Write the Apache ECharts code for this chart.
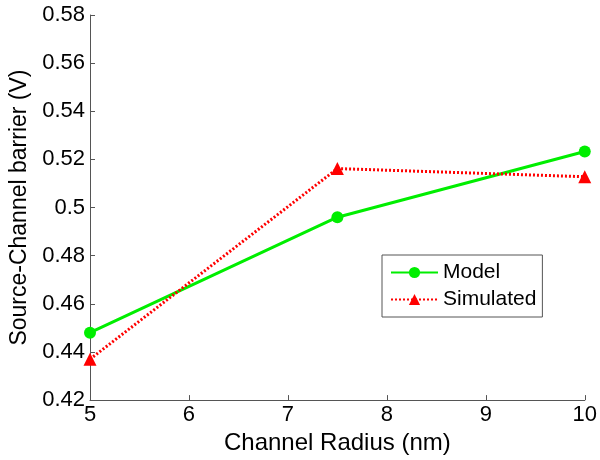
<!DOCTYPE html>
<html>
<head>
<meta charset="utf-8">
<script src="https://cdn.jsdelivr.net/npm/echarts@6/dist/echarts.min.js"></script>
<style>html,body{margin:0;padding:0;background:#fff;}#c{width:600px;height:460px;}</style>
</head>
<body>
<div id="c"></div>
<script>
var radius = [5, 7.5, 10];
var model = [0.448, 0.496, 0.5233];
var simulated = [0.437, 0.5162, 0.5128];
var seriesNames = ['Model', 'Simulated'];

var chart = echarts.init(document.getElementById('c'), null, {renderer: 'canvas'});
var font = 'Liberation Sans, Arial, Helvetica, sans-serif';
function pairs(xs, ys) { return xs.map(function (x, i) { return [x, ys[i]]; }); }
chart.setOption({
  animation: false,
  backgroundColor: '#fff',
  grid: {left: 90, right: 14, top: 15, bottom: 57, containLabel: false},
  legend: {
    orient: 'vertical',
    left: 382, top: 255,
    padding: [7, 6, 7, 8],
    borderColor: '#555', borderWidth: 1,
    backgroundColor: '#fff',
    itemWidth: 47, itemHeight: 14, itemGap: 6,
    textStyle: {fontFamily: font, fontSize: 21, color: '#000'},
    data: seriesNames
  },
  xAxis: {
    type: 'value', min: 5, max: 10, interval: 1,
    name: 'Channel Radius (nm)', nameLocation: 'middle', nameGap: 29,
    nameTextStyle: {fontFamily: font, fontSize: 24, color: '#000'},
    axisLine: {show: true, lineStyle: {color: '#555', width: 1}},
    axisTick: {show: true, inside: true, length: 5, lineStyle: {color: '#555'}},
    axisLabel: {fontFamily: font, fontSize: 22, color: '#000', margin: 4},
    splitLine: {show: false}
  },
  yAxis: {
    type: 'value', min: 0.42, max: 0.58, interval: 0.02,
    name: 'Source-Channel barrier (V)', nameLocation: 'middle', nameGap: 57,
    nameTextStyle: {fontFamily: font, fontSize: 23, color: '#000'},
    axisLine: {show: true, lineStyle: {color: '#555', width: 1}},
    axisTick: {show: true, inside: true, length: 5, lineStyle: {color: '#555'}},
    axisLabel: {fontFamily: font, fontSize: 22, color: '#000', margin: 5},
    splitLine: {show: false}
  },
  series: [
    {
      name: seriesNames[0], type: 'line', data: pairs(radius, model),
      symbol: 'circle', symbolSize: 12,
      lineStyle: {color: '#00ee00', width: 3},
      itemStyle: {color: '#00ee00'}
    },
    {
      name: seriesNames[1], type: 'line', data: pairs(radius, simulated),
      symbol: 'triangle', symbolSize: 13,
      lineStyle: {color: '#ff0000', width: 3, type: [2, 2]},
      itemStyle: {color: '#ff0000'}
    }
  ]
});
</script>
</body>
</html>
